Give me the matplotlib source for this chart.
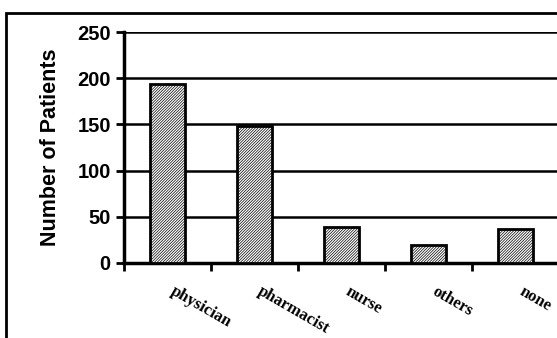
import matplotlib.pyplot as plt
from matplotlib.patches import Rectangle

categorias = ["physician", "pharmacist", "nurse", "others", "none"]
pacientes = [194, 148, 39, 19, 37]
yticks = [0, 50, 100, 150, 200, 250]

plt.rcParams["hatch.linewidth"] = 0.5
plt.rcParams["hatch.color"] = "black"

fig = plt.figure(figsize=(5.57, 3.38), dpi=100)
ax = fig.add_axes([124 / 557, 1 - 263 / 338, 435 / 557, 231 / 338])

# moldura externa do gráfico
fig.patches.append(Rectangle((6 / 557, -0.1), 1.2, 1 - 13 / 338 + 0.1, transform=fig.transFigure,
                             fill=False, edgecolor="black", linewidth=2))

pos = list(range(len(categorias)))
ax.bar(pos, pacientes, width=0.4, facecolor="white", edgecolor="black",
       hatch="////////////", linewidth=2, zorder=3)

ax.set_xlim(-0.5, len(categorias) - 0.5)
ax.set_ylim(0, 250)
ax.set_yticks(yticks)
ax.set_yticklabels([str(v) for v in yticks], fontsize=14.5, fontweight="bold", family="Liberation Sans")
ax.yaxis.grid(True, color="black", linewidth=1.8, zorder=0)
ax.set_axisbelow(True)

ax.set_xticks([p - 0.5 for p in pos] + [len(categorias) - 0.5])
ax.set_xticklabels([])
for p, nome in zip(pos, categorias):
    ax.text(p + 0.1, -22, nome, rotation=-30, rotation_mode="anchor", ha="left", va="top",
            fontsize=12, fontweight="bold", family="Liberation Serif")

ax.tick_params(axis="both", direction="out", width=2, length=6)
ax.set_ylabel("Number of Patients", fontsize=15.5, fontweight="bold", family="Liberation Sans", labelpad=12)

for lado in ["top", "right"]:
    ax.spines[lado].set_visible(False)
ax.spines["left"].set_linewidth(2.5)
ax.spines["bottom"].set_linewidth(2.5)

fig.savefig("out.png", dpi=100)
